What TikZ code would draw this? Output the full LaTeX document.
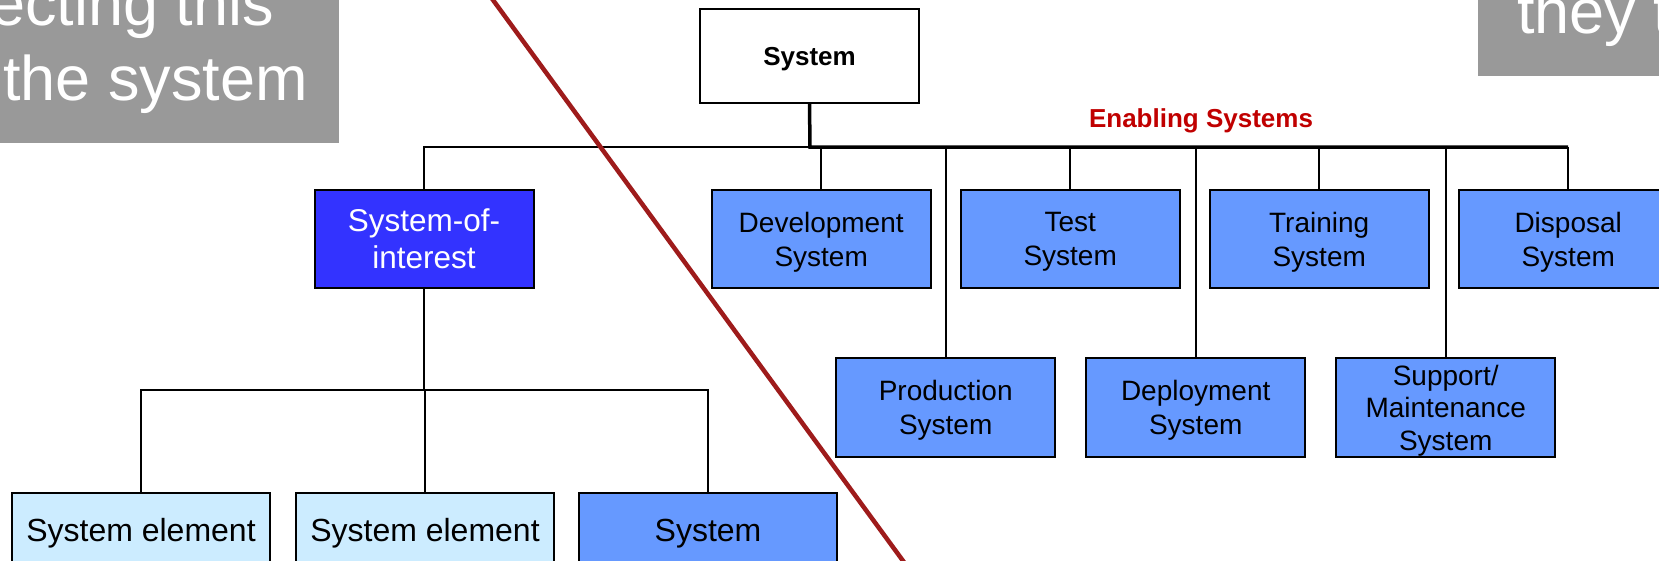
\documentclass[tikz,border=0pt]{standalone}
\usepackage{fontspec}
\setmainfont{Liberation Sans}
\definecolor{slategrey}{RGB}{153,153,153}
\definecolor{enablefill}{RGB}{102,153,255}
\definecolor{soifill}{RGB}{51,51,255}
\definecolor{elemfill}{RGB}{204,236,255}
\definecolor{divider}{RGB}{158,27,27}
\definecolor{enablingred}{RGB}{192,0,0}
\begin{document}
\begin{tikzpicture}[x=1pt,y=-1pt,
  boxtext/.style={font=\fontsize{28}{34}\selectfont},
  sysbox/.style={draw=black, line width=2pt, rectangle, inner sep=0pt, align=center,
    text depth=0pt, minimum width=219pt, minimum height=98pt, boxtext},
  enbox/.style={sysbox, fill=enablefill},
  elembox/.style={draw=black, line width=2pt, rectangle, inner sep=0pt, minimum width=258pt,
    text height=48pt, text depth=60pt, anchor=north, font=\fontsize{32}{38}\selectfont},
  link/.style={line width=2pt},
  heavylink/.style={line width=3.5pt},
  banner/.style={fill=slategrey},
  bannertext/.style={text=white, inner sep=0pt, anchor=base west, font=\fontsize{63}{75}\selectfont},
]
\path[use as bounding box] (0,0) rectangle (1659,560);
\clip (0,0) rectangle (1659,560);

% grey caption banners
\fill[banner] (-10,-10) rectangle (339,143);
\node[bannertext] (captionA1) at (-10,25) {ecting this};
\node[bannertext] (captionA2) at (3,100) {the system};
\fill[banner] (1478,-10) rectangle (1670,76);
\node[bannertext] (captionB) at (1517,33) {they t};

% top-level system
\node[sysbox, fill=white, minimum height=94pt, font=\fontsize{26}{31}\selectfont\bfseries] (top) at (809.5,56) {System};
\node[text=enablingred, font=\fontsize{26}{31}\selectfont\bfseries, anchor=base] (enlabel) at (1201,127) {Enabling Systems};

% system-of-interest and enabling systems
\node[sysbox, fill=soifill, text=white, font=\fontsize{31.5}{37}\selectfont] (soi) at (424,239) {System-of-\\interest};
\node[enbox] (dev) at (821.2,239) {Development\\System};
\node[enbox] (tst) at (1070.2,239) {Test\\System};
\node[enbox] (trn) at (1319.2,239) {Training\\System};
\node[enbox] (dsp) at (1568.2,239) {Disposal\\System};
\node[enbox, minimum height=99pt] (prd) at (945.7,407.5) {Production\\System};
\node[enbox, minimum height=99pt] (dpl) at (1195.7,407.5) {Deployment\\System};
\node[enbox, minimum height=99pt, font=\fontsize{28}{32.5}\selectfont] (sup) at (1445.7,407.5) {Support/\\Maintenance\\System};

% elements of the system-of-interest
\node[elembox, fill=elemfill] (se1) at (141,492) {System element};
\node[elembox, fill=elemfill] (se2) at (425,492) {System element};
\node[elembox, fill=enablefill] (sysb) at (708,492) {System};

% buses
\coordinate (bus) at (810,147);
\coordinate (lowbus) at (424,390);

\draw[link] (soi.north) |- (bus);
\draw[heavylink] (top.south) -- (bus) -- (dsp.north |- bus);
\foreach \n in {dev,tst,trn,dsp,prd,dpl,sup}
  \draw[link] (\n.north) -- (\n.north |- bus);
\draw[line width=2.5pt] (soi.south) -- (soi.south |- lowbus);
\draw[link] (se1.north) |- (sysb.north |- lowbus) -- (sysb.north);
\draw[link] (se2.north) -- (se2.north |- lowbus);

% diagonal divider
\draw[divider, line width=4.5pt] (485.7,-10) -- (909.7,570);
\end{tikzpicture}
\end{document}
